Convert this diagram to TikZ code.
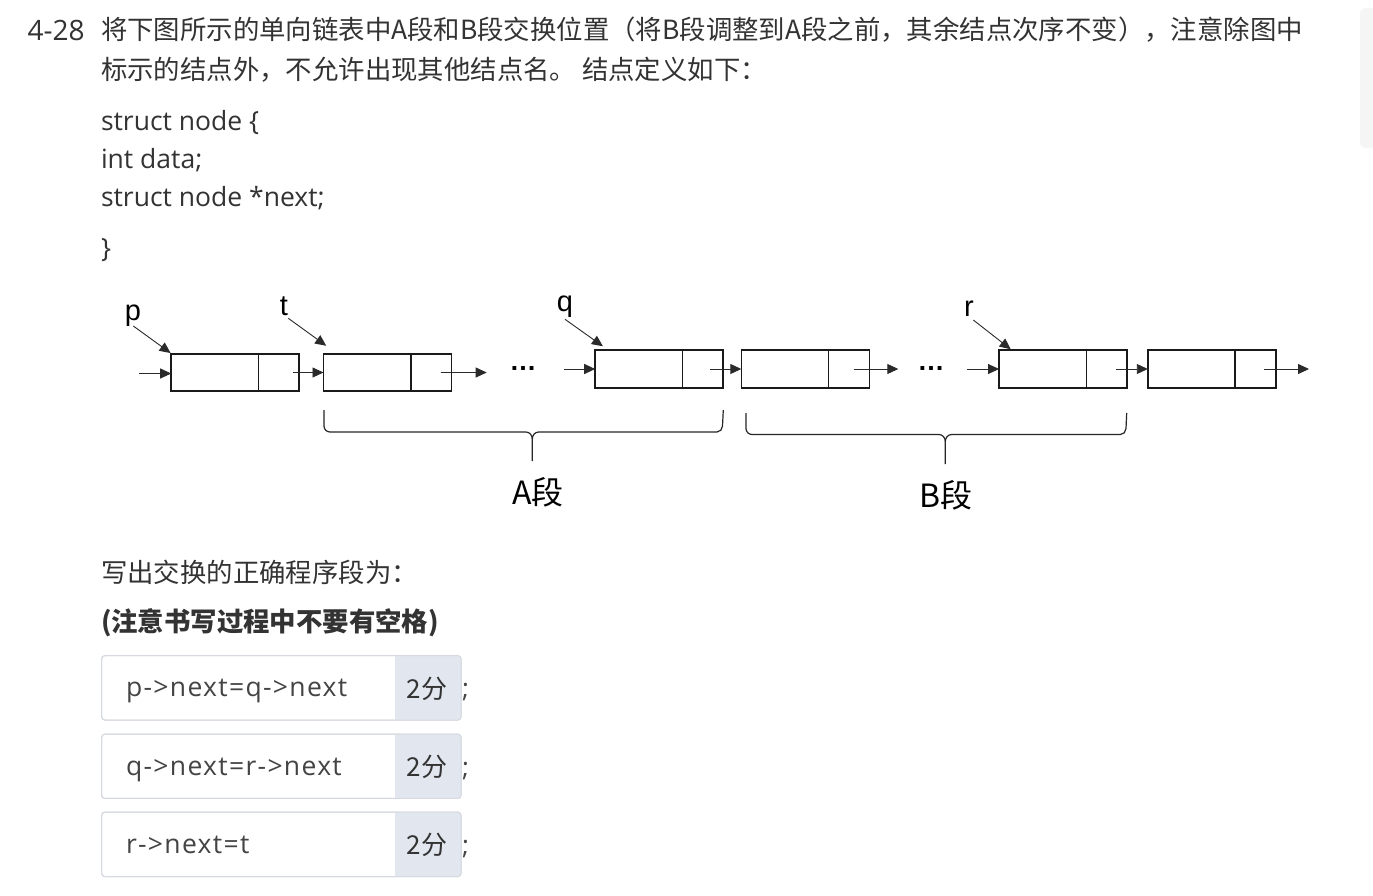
\documentclass[tikz,border=0pt]{standalone}
\usepackage{fontspec}
\setmainfont{Open Sans}
\newfontfamily\cjk{Noto Sans CJK SC}
\newfontfamily\arial{Liberation Sans}
\newfontfamily\ansfont[LetterSpace=5]{Open Sans}
\usetikzlibrary{arrows.meta,calc}
\definecolor{txt}{HTML}{333333}
\definecolor{anstxt}{HTML}{444444}
\definecolor{boxc}{HTML}{1A1A1A}
\definecolor{arrc}{HTML}{2A2A2A}
\definecolor{ansborder}{HTML}{D6DAE0}
\definecolor{ansgray}{HTML}{E2E7EF}
\definecolor{scrollc}{HTML}{F5F5F5}
\tikzset{
  plain/.style={inner sep=0pt, outer sep=0pt},
  hdr/.style={plain, text=txt, font=\fontsize{28}{32}\selectfont},
  cjktext/.style={plain, text=txt, font=\cjk\fontsize{26.4}{30}\selectfont},
  cjkbold/.style={plain, text=txt, font=\cjk\bfseries\fontsize{26.4}{30}\selectfont},
  code/.style={plain, text=txt, font=\fontsize{26.5}{30}\selectfont},
  lnode/.style={draw=boxc, line width=1.6pt, minimum width=128pt, minimum height=37.5pt, inner sep=0pt, outer sep=0pt},
  divline/.style={draw=boxc, line width=1.6pt},
  arr/.style={draw=arrc, line width=0.9pt, -{Triangle[length=11pt,width=10pt]}},
  ptrlabel/.style={plain, text=black, font=\arial\fontsize{29}{32}\selectfont, anchor=base},
  dots/.style={plain, text=black, font=\arial\bfseries\fontsize{27}{30}\selectfont, anchor=base},
  brace/.style={draw=black!85, line width=1.2pt},
  seglabel/.style={plain, text=black, font=\cjk\fontsize{32}{36}\selectfont},
  ansbox/.style={draw=ansborder, line width=1pt, rounded corners=3pt, minimum width=359.3pt, minimum height=64.3pt, inner sep=0pt, outer sep=0pt},
  anstext/.style={plain, text=anstxt, font=\ansfont\fontsize{26.5}{30}\selectfont, anchor=base west},
  score/.style={plain, text=txt, font=\cjk\fontsize{26}{30}\selectfont},
  semi/.style={plain, text=anstxt, font=\fontsize{26}{30}\selectfont, anchor=base west},
}
\begin{document}
\begin{tikzpicture}[x=1pt,y=-1pt]
\useasboundingbox[fill=white] (0,0) rectangle (1373,895);
% scrollbar
\fill[scrollc, rounded corners=6pt] (1360,8) rectangle (1385,148);

% header
\node[hdr, anchor=west] (num) at (27.5,30) {4-28};
\node[cjktext, anchor=west] (l1) at (101,30) {将下图所示的单向链表中A段和B段交换位置（将B段调整到A段之前，其余结点次序不变），注意除图中};
\node[cjktext, anchor=west] (l2) at (101,70) {标示的结点外，不允许出现其他结点名。 结点定义如下：};

% code
\node[code, anchor=base west] (c1) at (101,130) {struct node \{};
\node[code, anchor=base west] (c2) at (101,168.3) {int data;};
\node[code, anchor=base west] (c3) at (101,206.7) {struct node *next;};
\node[code, anchor=base west] (c4) at (101,257) {\}};

% list nodes
\node[lnode] (n1) at (235.2,372.5) {};
\node[lnode] (n2) at (387.5,372.5) {};
\node[lnode] (n3) at (659.2,369) {};
\node[lnode] (n4) at (805.3,369) {};
\node[lnode] (n5) at (1063,369) {};
\node[lnode] (n6) at (1211.8,369) {};
\foreach \n in {n1,n2,n3,n4,n5,n6}{
  \draw[divline] ($(\n.north west)+(87.3,0)$) -- ($(\n.south west)+(87.3,0)$);
}

% free ends
\coordinate (in1) at (139.3,373.5);
\coordinate (in3) at (564,369);
\coordinate (in5) at (967.3,369);
\coordinate (out2) at (486.7,372.5);
\coordinate (out4) at (898.3,369);
\coordinate (out6) at (1309,369);

\draw[arr] (in1) -- (in1 -| n1.west);
\draw[arr] ($(n1.east)+(-6.3,0)$) -- (n2.west);
\draw[arr] ($(n2.east)+(-11,0)$) -- (out2);
\draw[arr] (in3) -- (n3.west);
\draw[arr] ($(n3.east)+(-13,0)$) -- (n4.west);
\draw[arr] ($(n4.east)+(-15.7,0)$) -- (out4);
\draw[arr] (in5) -- (n5.west);
\draw[arr] ($(n5.east)+(-10.7,0)$) -- (n6.west);
\draw[arr] ($(n6.east)+(-12,0)$) -- (out6);

\node[dots] (d1) at (523,370) {…};
\node[dots] (d2) at (931,370) {…};

% pointer labels
\node[ptrlabel] (p) at (133,320) {p};
\node[ptrlabel] (t) at (284,315) {t};
\node[ptrlabel] (q) at (565,311) {q};
\node[ptrlabel] (r) at (969,316.5) {r};
\draw[arr] ($(p.base)+(0.3,6)$) -- ($(n1.north west)+(-0.6,-0.7)$);
\draw[arr] ($(t.base)+(4.3,3.3)$) -- ($(n2.north west)+(2.7,-8)$);
\draw[arr] ($(q.base)+(0,8.3)$) -- ($(n3.north west)+(7.7,-4)$);
\draw[arr] ($(r.base)+(4.3,3.5)$) -- ($(n5.north west)+(11.7,-1)$);

% braces
\draw[brace] (324,410) -- (324,426) to[out=-90,in=180] (330,432) -- (526,432) to[out=0,in=90] (532.3,439) -- (532.3,461);
\draw[brace] (723.3,410) -- (722.5,426) to[out=-95,in=0] (717,432) -- (538.6,432) to[out=180,in=90] (532.3,439);
\draw[brace] (746,413) -- (746,428.5) to[out=-90,in=180] (752,434.5) -- (939,434.5) to[out=0,in=90] (945.3,441.5) -- (945.3,464);
\draw[brace] (1126.7,413) -- (1126,428.5) to[out=-95,in=0] (1120.5,434.5) -- (951.6,434.5) to[out=180,in=90] (945.3,441.5);
\node[seglabel] (A) at (538,492) {A段};
\node[seglabel] (B) at (946,495) {B段};

% question
\node[cjktext, anchor=west] (w1) at (101,572) {写出交换的正确程序段为：};
\node[cjkbold, anchor=west] (w2) at (101,623) {(注意书写过程中不要有空格)};

% answer boxes
\foreach \i/\yc/\ans in {1/687.85/{p->next=q->next}, 2/766.3/{q->next=r->next}, 3/844.35/{r->next=t}}{
  \node[ansbox, fill=white] (a\i) at (281.35,\yc) {};
  \begin{scope}
    \clip[rounded corners=3pt] (a\i.south west) rectangle (a\i.north east);
    \fill[ansgray] (395.3,\yc-32.15) rectangle (461,\yc+32.15);
  \end{scope}
  \draw[ansborder, line width=1pt, rounded corners=3pt] (a\i.south west) rectangle (a\i.north east);
  \node[anstext] (t\i) at (126,\yc+9) {\ans};
  \node[score] (s\i) at (427,\yc+1) {2分};
  \node[semi] (e\i) at (462,\yc+10) {;};
}
\end{tikzpicture}
\end{document}
